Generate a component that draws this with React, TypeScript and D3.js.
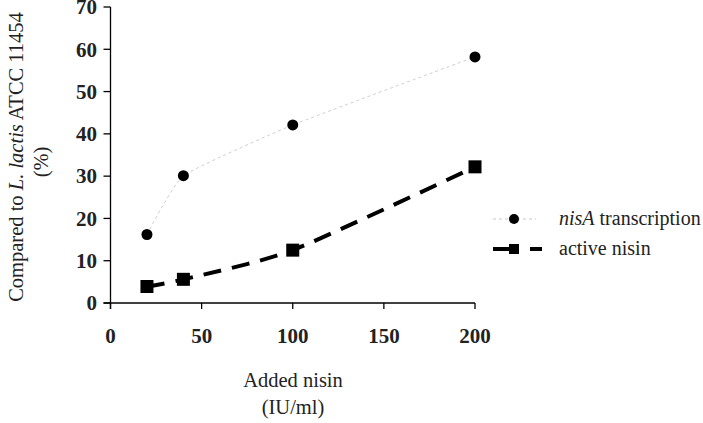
import React from "react";
import * as d3 from "d3";

const xValues = [20, 40, 100, 200];
const nisA = [16.2, 30.1, 42.1, 58.2];
const activeNisin = [3.9, 5.6, 12.5, 32.2];
const xTicks = [0, 50, 100, 150, 200];
const yTicks = [0, 10, 20, 30, 40, 50, 60, 70];
const seriesNames = ["transcription", "active nisin"];

const W = 703;
const H = 423;
const FONT = "'Liberation Serif', 'Times New Roman', serif";

export default function App() {
  const x = d3.scaleLinear().domain([0, 200]).range([110.5, 475]);
  const y = d3.scaleLinear().domain([0, 70]).range([303, 7]);

  const ptsA: [number, number][] = xValues.map((v, i) => [x(v), y(nisA[i])]);
  const ptsB: [number, number][] = xValues.map((v, i) => [x(v), y(activeNisin[i])]);
  const lineA = d3.line().curve(d3.curveCardinal.tension(0.6));
  const lineB = d3.line().curve(d3.curveCardinal.tension(0.35));

  return (
    <svg
      width={W}
      height={H}
      style={{ position: "absolute", left: 0, top: 0, background: "#fff" }}
      fontFamily={FONT}
    >
      <rect width={W} height={H} fill="#fff" />
      {/* y axis */}
      <line x1={x(0)} x2={x(0)} y1={y(70)} y2={y(0) + 6} stroke="#000" strokeWidth={1.3} />
      {yTicks.map((t) => (
        <g key={"y" + t}>
          <line x1={x(0) - 7} x2={x(0)} y1={y(t)} y2={y(t)} stroke="#000" strokeWidth={1.3} />
          <text
            x={97}
            y={y(t)}
            dy="0.35em"
            textAnchor="end"
            fontWeight="bold"
            fontSize={21}
            fill="#222"
          >
            {t}
          </text>
        </g>
      ))}
      {/* x axis */}
      <line x1={x(0) - 7} x2={x(200)} y1={y(0)} y2={y(0)} stroke="#000" strokeWidth={1.3} />
      {xTicks.map((t) => (
        <g key={"x" + t}>
          <line x1={x(t)} x2={x(t)} y1={y(0)} y2={y(0) + 6} stroke="#000" strokeWidth={1.3} />
          <text
            x={x(t)}
            y={343}
            textAnchor="middle"
            fontWeight="bold"
            fontSize={21}
            fill="#222"
          >
            {t}
          </text>
        </g>
      ))}
      {/* axis titles */}
      <text transform="translate(16,157) rotate(-90)" textAnchor="middle" fontSize={20.5} fill="#222" dy="0.35em">
        Compared to <tspan fontStyle="italic">L. lactis</tspan> ATCC 11454
      </text>
      <text transform="translate(41,162) rotate(-90)" textAnchor="middle" fontSize={20.5} fill="#222" dy="0.35em">
        (%)
      </text>
      <text x={293} y={387} textAnchor="middle" fontSize={20.5} fill="#222">
        Added nisin
      </text>
      <text x={293} y={414} textAnchor="middle" fontSize={20.5} fill="#222">
        (IU/ml)
      </text>

      {/* series nisA */}
      <path d={lineA(ptsA) || ""} fill="none" stroke="#cfcfcf" strokeWidth={1} strokeDasharray="3,3" />
      {ptsA.map((p, i) => (
        <circle key={"a" + i} cx={p[0]} cy={p[1]} r={5.5} fill="#000" />
      ))}

      {/* series active nisin */}
      <path d={lineB(ptsB) || ""} fill="none" stroke="#000" strokeWidth={4} strokeDasharray="18,11" />
      {ptsB.map((p, i) => (
        <rect key={"b" + i} x={p[0] - 6.5} y={p[1] - 6.5} width={13} height={13} fill="#000" />
      ))}

      {/* legend */}
      <line x1={493} x2={536} y1={219} y2={219} stroke="#c8c8c8" strokeWidth={1} strokeDasharray="3,3" />
      <circle cx={514} cy={219} r={5} fill="#000" />
      <text x={559} y={225} fontSize={20} fill="#222">
        <tspan fontStyle="italic">nisA</tspan> {seriesNames[0]}
      </text>
      <line x1={493} x2={542} y1={249} y2={249} stroke="#000" strokeWidth={4} strokeDasharray="21,16,12" />
      <rect x={509} y={244} width={10} height={10} fill="#000" />
      <text x={559} y={255} fontSize={20} fill="#222">
        {seriesNames[1]}
      </text>
    </svg>
  );
}
